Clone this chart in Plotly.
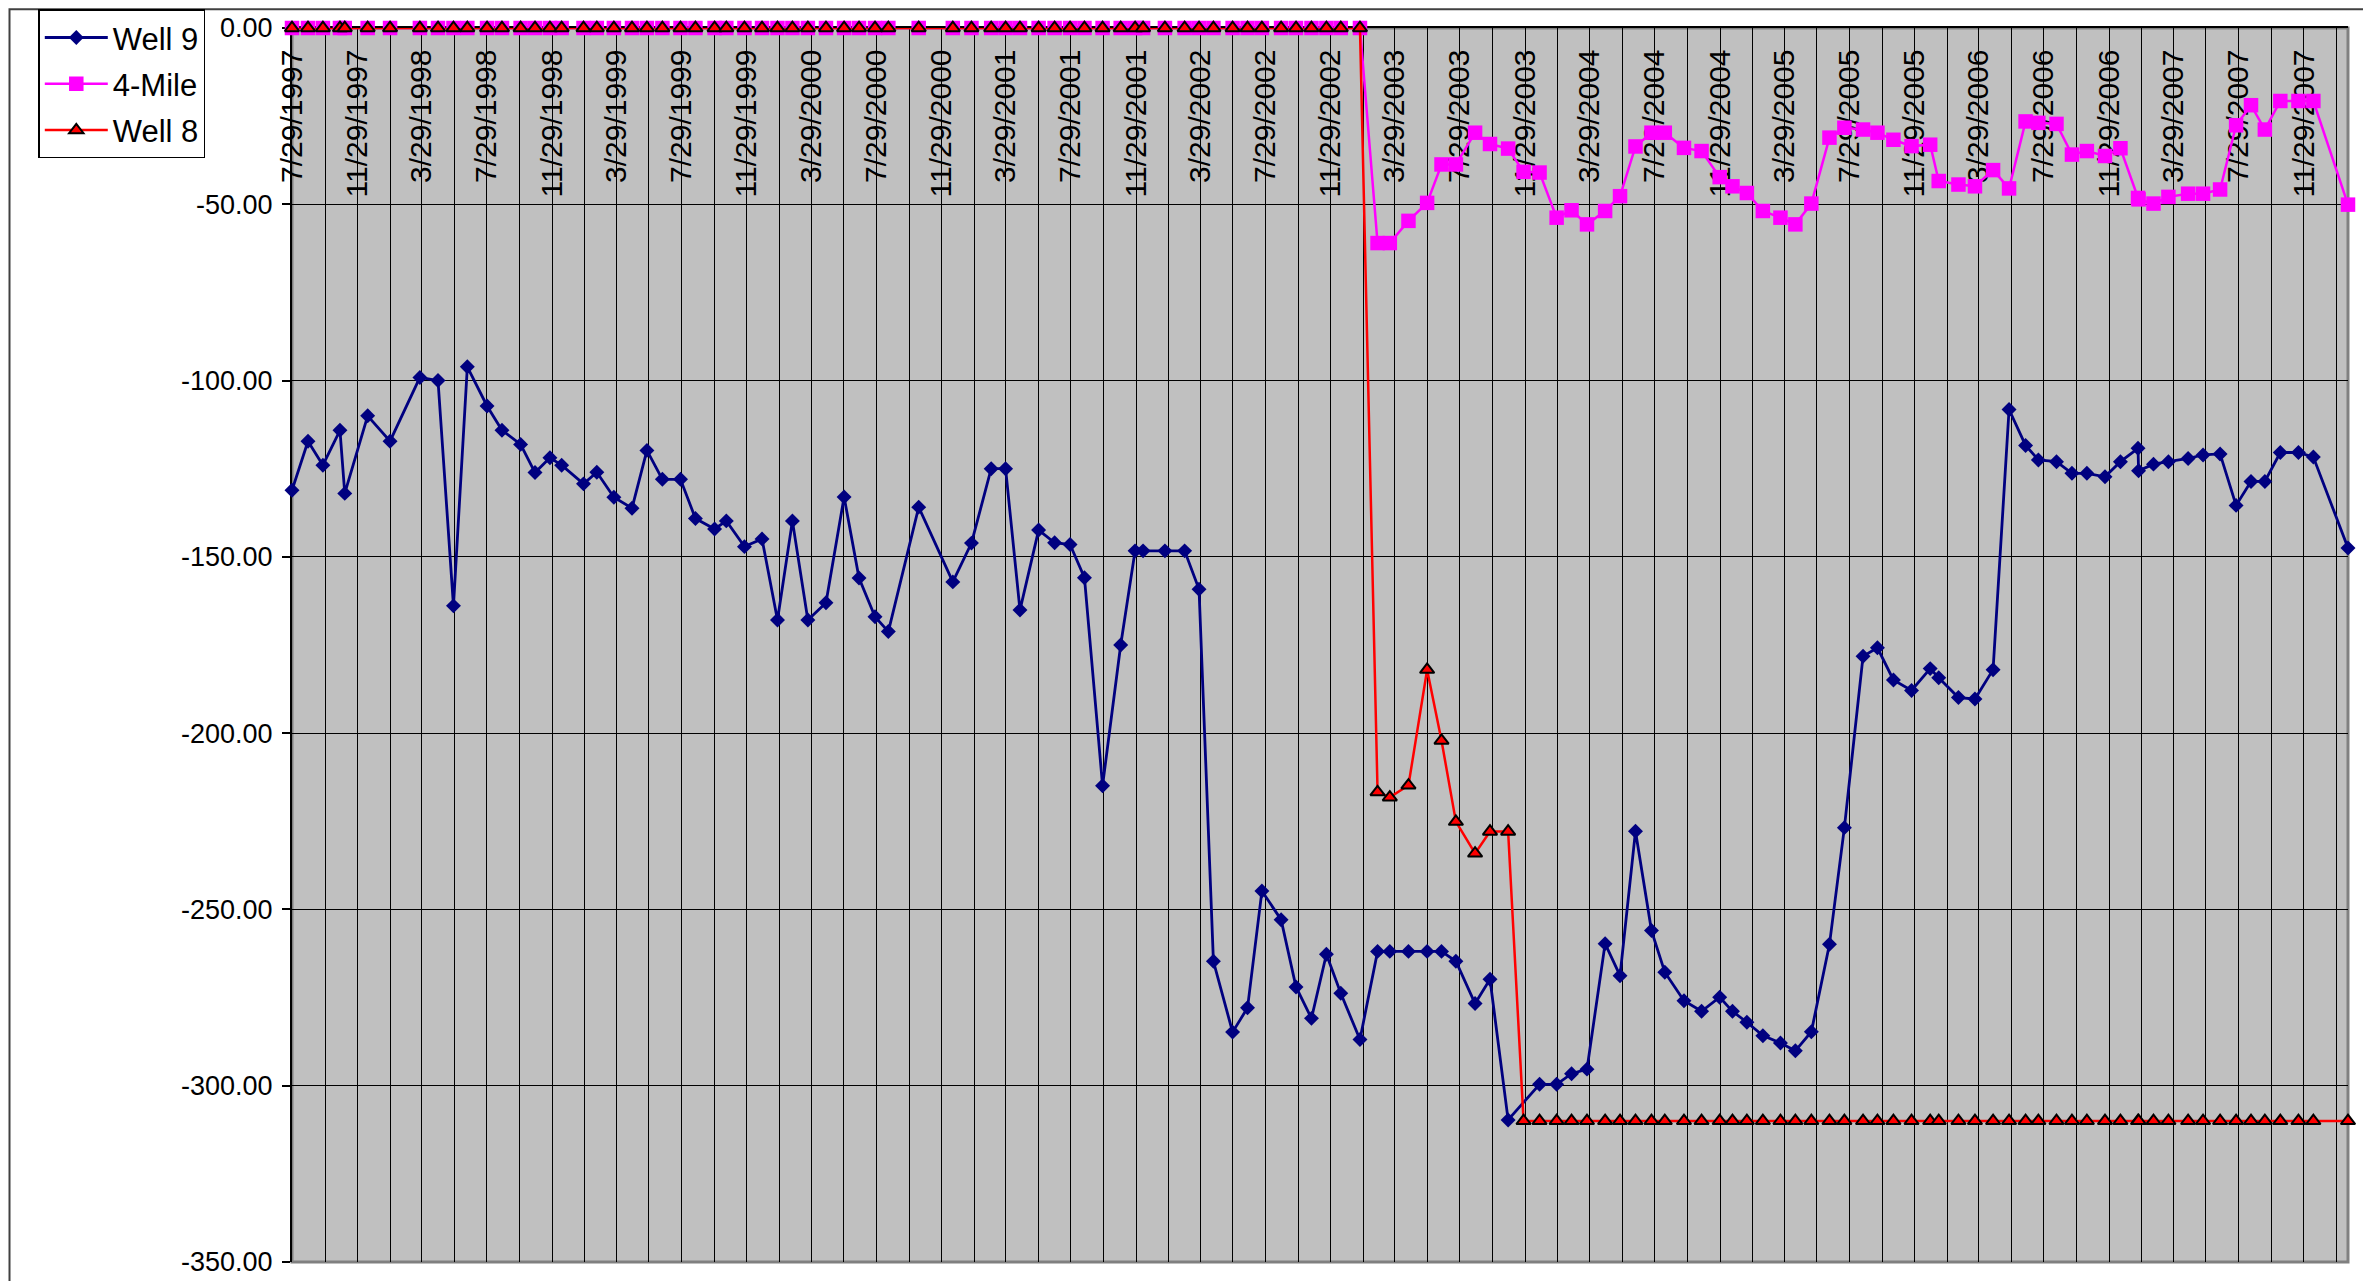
import plotly.graph_objects as go

dates = [
    "1997-07-29", "1997-08-28", "1997-09-25", "1997-10-27", "1997-11-05", "1997-12-18",
    "1998-01-29", "1998-03-26", "1998-04-29", "1998-05-28", "1998-06-23", "1998-07-30",
    "1998-08-27", "1998-10-01", "1998-10-28", "1998-11-25", "1998-12-17", "1999-01-27",
    "1999-02-21", "1999-03-25", "1999-04-28", "1999-05-26", "1999-06-24", "1999-07-28",
    "1999-08-25", "1999-09-30", "1999-10-22", "1999-11-25", "1999-12-28", "2000-01-26",
    "2000-02-23", "2000-03-23", "2000-04-26", "2000-05-30", "2000-06-27", "2000-07-27",
    "2000-08-21", "2000-10-17", "2000-12-20", "2001-01-24", "2001-03-02", "2001-03-29",
    "2001-04-25", "2001-05-30", "2001-06-29", "2001-07-28", "2001-08-24", "2001-09-27",
    "2001-10-31", "2001-11-27", "2001-12-12", "2002-01-22", "2002-02-28", "2002-03-27",
    "2002-04-23", "2002-05-29", "2002-06-26", "2002-07-23", "2002-08-28", "2002-09-25",
    "2002-10-24", "2002-11-21", "2002-12-18", "2003-01-23", "2003-02-25", "2003-03-20",
    "2003-04-24", "2003-05-29", "2003-06-25", "2003-07-22", "2003-08-27", "2003-09-24",
    "2003-10-28", "2003-11-26", "2003-12-26", "2004-01-27", "2004-02-24", "2004-03-24",
    "2004-04-27", "2004-05-25", "2004-06-23", "2004-07-23", "2004-08-17", "2004-09-22",
    "2004-10-25", "2004-11-28", "2004-12-22", "2005-01-18", "2005-02-17", "2005-03-22",
    "2005-04-19", "2005-05-19", "2005-06-22", "2005-07-20", "2005-08-24", "2005-09-20",
    "2005-10-20", "2005-11-23", "2005-12-28", "2006-01-13", "2006-02-19", "2006-03-22",
    "2006-04-25", "2006-05-25", "2006-06-25", "2006-07-19", "2006-08-22", "2006-09-20",
    "2006-10-18", "2006-11-21", "2006-12-20", "2007-01-22", "2007-01-23", "2007-02-20",
    "2007-03-20", "2007-04-26", "2007-05-24", "2007-06-25", "2007-07-25", "2007-08-22",
    "2007-09-17", "2007-10-16", "2007-11-19", "2007-12-17", "2008-02-20",
]

well9 = [
    -131.1, -117.2, -124.0, -114.1, -132.0, -110.0, -117.2, -99.1, -100.0, -163.9,
    -96.1, -107.2, -114.1, -118.1, -126.1, -121.9, -124.0, -129.3, -126.0, -133.1,
    -136.2, -119.8, -128.0, -128.0, -139.1, -142.1, -139.8, -147.1, -144.9, -167.9,
    -139.8, -167.9, -163.0, -133.0, -156.0, -167.0, -171.2, -135.9, -157.1, -146.1,
    -125.0, -125.0, -165.1, -142.4, -146.0, -146.5, -155.9, -214.9, -175.0, -148.3,
    -148.3, -148.3, -148.3, -159.2, -264.7, -284.8, -277.9, -244.8, -252.9, -272.0,
    -280.9, -262.7, -273.8, -286.9, -261.9, -261.9, -261.9, -261.9, -261.9, -264.7,
    -276.7, -269.8, -309.7, None, -299.6, -299.6, -296.6, -295.3, -259.7, -268.8,
    -227.8, -256.0, -267.8, -275.9, -278.9, -274.9, -278.9, -282.0, -285.8, -287.9,
    -290.1, -284.7, -259.9, -226.8, -178.2, -175.8, -184.9, -187.9, -181.7, -184.3,
    -189.9, -190.3, -182.0, -108.2, -118.4, -122.5, -123.0, -126.3, -126.3, -127.3,
    -123.0, -119.2, -125.6, -123.7, -123.0, -122.1, -121.1, -120.8, -135.4, -128.6,
    -128.6, -120.4, -120.4, -121.7, -147.5,
]

mile4 = [
    0.0, 0.0, 0.0, 0.0, 0.0, 0.0, 0.0, 0.0, 0.0, 0.0,
    0.0, 0.0, 0.0, 0.0, 0.0, 0.0, 0.0, 0.0, 0.0, 0.0,
    0.0, 0.0, 0.0, 0.0, 0.0, 0.0, 0.0, 0.0, 0.0, 0.0,
    0.0, 0.0, 0.0, 0.0, 0.0, 0.0, 0.0, 0.0, 0.0, 0.0,
    0.0, 0.0, 0.0, 0.0, 0.0, 0.0, 0.0, 0.0, 0.0, 0.0,
    0.0, 0.0, 0.0, 0.0, 0.0, 0.0, 0.0, 0.0, 0.0, 0.0,
    0.0, 0.0, 0.0, 0.0, -61.0, -61.0, -54.7, -49.6, -38.7, -38.7,
    -29.7, -32.9, -34.2, -40.8, -41.0, -53.8, -51.7, -55.7, -51.9, -47.7,
    -33.6, -29.7, -29.7, -34.0, -34.9, -42.3, -44.9, -46.8, -51.9, -53.8,
    -55.7, -49.8, -31.1, -28.3, -28.8, -29.7, -31.7, -33.5, -33.1, -43.4,
    -44.4, -44.9, -40.3, -45.5, -26.5, -26.9, -27.2, -35.9, -34.9, -36.3,
    -34.1, -48.2, -48.6, -49.8, -47.9, -47.0, -47.0, -45.8, -27.6, -21.9,
    -28.8, -20.7, -20.7, -20.7, -50.1,
]

well8 = [
    0.0, 0.0, 0.0, 0.0, 0.0, 0.0, 0.0, 0.0, 0.0, 0.0,
    0.0, 0.0, 0.0, 0.0, 0.0, 0.0, 0.0, 0.0, 0.0, 0.0,
    0.0, 0.0, 0.0, 0.0, 0.0, 0.0, 0.0, 0.0, 0.0, 0.0,
    0.0, 0.0, 0.0, 0.0, 0.0, 0.0, 0.0, 0.0, 0.0, 0.0,
    0.0, 0.0, 0.0, 0.0, 0.0, 0.0, 0.0, 0.0, 0.0, 0.0,
    0.0, 0.0, 0.0, 0.0, 0.0, 0.0, 0.0, 0.0, 0.0, 0.0,
    0.0, 0.0, 0.0, 0.0, -216.7, -218.2, -214.8, -182.0, -202.1, -225.1,
    -234.1, -227.9, -227.9, -310.0, -310.0, -310.0, -310.0, -310.0, -310.0, -310.0,
    -310.0, -310.0, -310.0, -310.0, -310.0, -310.0, -310.0, -310.0, -310.0, -310.0,
    -310.0, -310.0, -310.0, -310.0, -310.0, -310.0, -310.0, -310.0, -310.0, -310.0,
    -310.0, -310.0, -310.0, -310.0, -310.0, -310.0, -310.0, -310.0, -310.0, -310.0,
    -310.0, -310.0, -310.0, -310.0, -310.0, -310.0, -310.0, -310.0, -310.0, -310.0,
    -310.0, -310.0, -310.0, -310.0, -310.0,
]

y_tick_values = [0, -50, -100, -150, -200, -250, -300, -350]
y_tick_labels = ["0.00", "-50.00", "-100.00", "-150.00", "-200.00", "-250.00", "-300.00", "-350.00"]

x_tick_dates = [
    "1997-07-29", "1997-11-29", "1998-03-29", "1998-07-29", "1998-11-29", "1999-03-29",
    "1999-07-29", "1999-11-29", "2000-03-29", "2000-07-29", "2000-11-29", "2001-03-29",
    "2001-07-29", "2001-11-29", "2002-03-29", "2002-07-29", "2002-11-29", "2003-03-29",
    "2003-07-29", "2003-11-29", "2004-03-29", "2004-07-29", "2004-11-29", "2005-03-29",
    "2005-07-29", "2005-11-29", "2006-03-29", "2006-07-29", "2006-11-29", "2007-03-29",
    "2007-07-29", "2007-11-29",
]
x_tick_labels = [
    "7/29/1997", "11/29/1997", "3/29/1998", "7/29/1998", "11/29/1998", "3/29/1999",
    "7/29/1999", "11/29/1999", "3/29/2000", "7/29/2000", "11/29/2000", "3/29/2001",
    "7/29/2001", "11/29/2001", "3/29/2002", "7/29/2002", "11/29/2002", "3/29/2003",
    "7/29/2003", "11/29/2003", "3/29/2004", "7/29/2004", "11/29/2004", "3/29/2005",
    "7/29/2005", "11/29/2005", "3/29/2006", "7/29/2006", "11/29/2006", "3/29/2007",
    "7/29/2007", "11/29/2007",
]
x_grid_dates = [
    "1997-09-29", "1998-01-29", "1998-05-29", "1998-09-29", "1999-01-29", "1999-05-29",
    "1999-09-29", "2000-01-29", "2000-05-29", "2000-09-29", "2001-01-29", "2001-05-29",
    "2001-09-29", "2002-01-29", "2002-05-29", "2002-09-29", "2003-01-29", "2003-05-29",
    "2003-09-29", "2004-01-29", "2004-05-29", "2004-09-29", "2005-01-29", "2005-05-29",
    "2005-09-29", "2006-01-29", "2006-05-29", "2006-09-29", "2007-01-29", "2007-05-29",
    "2007-09-29", "2008-01-29",
]

x_start = "1997-07-29"
x_end = "2008-02-20"

FONT = "Liberation Sans, Arial, sans-serif"

fig = go.Figure()
fig.add_trace(go.Scatter(
    x=dates, y=well9, name="Well 9", mode="lines+markers", legendgroup="g1",
    line=dict(color="#000080", width=2.8),
    marker=dict(symbol="diamond", size=11.5, color="#000080"),
    connectgaps=True, cliponaxis=False,
))
fig.add_trace(go.Scatter(
    x=dates, y=mile4, name="4-Mile", mode="lines+markers", legendgroup="g2",
    line=dict(color="#FF00FF", width=2.5),
    marker=dict(symbol="square", size=14.5, color="#FF00FF"),
    connectgaps=True, cliponaxis=False,
))
fig.add_trace(go.Scatter(
    x=dates, y=well8, name="Well 8", mode="lines+markers", legendgroup="g3",
    line=dict(color="#FF0000", width=2.5),
    marker=dict(symbol="triangle-up", size=12.5, color="#FF0000",
                line=dict(color="#000000", width=2)),
    connectgaps=True, cliponaxis=False,
))

fig.update_layout(
    width=2371, height=1281, autosize=False,
    margin=dict(l=283.6, r=30.5, t=19.6, b=27, pad=0, autoexpand=False),
    paper_bgcolor="#FFFFFF", plot_bgcolor="#C0C0C0",
    font=dict(family=FONT, color="#000000"),
    showlegend=True,
    legend=dict(
        x=-0.1234, y=1.0151, xanchor="left", yanchor="top",
        bgcolor="#FFFFFF", bordercolor="#000000", borderwidth=1.5,
        font=dict(family=FONT, size=31, color="#000000"),
        tracegroupgap=3, itemwidth=63,
    ),
    xaxis=dict(
        type="date", range=[x_start, x_end], side="top",
        tickmode="array", tickvals=x_tick_dates, ticktext=x_tick_labels,
        tickangle=-90, ticklabelposition="inside", ticklabeloverflow="allow",
        ticks="", ticklabelstandoff=8,
        tickfont=dict(family=FONT, size=30, color="#000000"),
        showgrid=True, gridcolor="#000000", gridwidth=1,
        minor=dict(tickmode="array", tickvals=x_grid_dates, showgrid=True,
                   gridcolor="#000000", gridwidth=1, ticks=""),
        showline=True, linecolor="#000000", linewidth=2,
        zeroline=False, layer="below traces",
    ),
    yaxis=dict(
        range=[-350, 0], tickmode="array", tickvals=y_tick_values, ticktext=y_tick_labels,
        ticks="outside", ticklen=8, tickwidth=1.5, tickcolor="#000000", ticklabelstandoff=4,
        tickfont=dict(family=FONT, size=27, color="#000000"),
        showgrid=True, gridcolor="#000000", gridwidth=1,
        showline=True, linecolor="#000000", linewidth=2,
        zeroline=False, layer="below traces",
    ),
    shapes=[
        dict(type="rect", xref="paper", yref="paper", x0=-0.1374, x1=1.2, y0=-0.2, y1=1.0151,
             line=dict(color="#404040", width=2), fillcolor="rgba(0,0,0,0)", layer="below"),
        dict(type="rect", xref="x domain", yref="y domain", x0=0, x1=1, y0=0, y1=1,
             line=dict(color="#808080", width=3), fillcolor="rgba(0,0,0,0)", layer="below"),
    ],
)

fig.write_html("out.html")
